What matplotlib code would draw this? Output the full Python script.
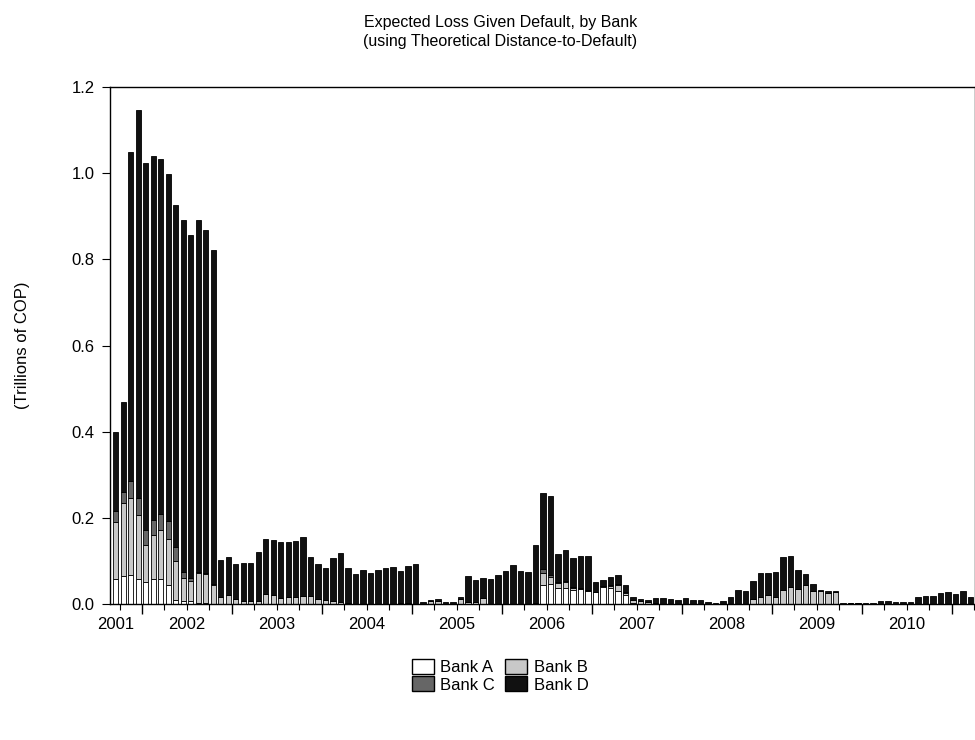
import matplotlib
matplotlib.use('Agg')
import matplotlib.pyplot as plt
import numpy as np
from matplotlib.patches import Patch

plt.rcParams['font.family'] = ['Liberation Sans', 'DejaVu Sans']

# Monthly totals (Sep 2001 - Mar 2011), trillions of COP
total = [0.40, 0.468, 1.05, 1.146, 1.023, 1.04, 1.034, 0.997, 0.926, 0.892,
         0.857, 0.892, 0.869, 0.822, 0.103, 0.108, 0.093, 0.094, 0.094, 0.12,
         0.152, 0.148, 0.145, 0.145, 0.146, 0.156, 0.11, 0.092, 0.084, 0.107,
         0.118, 0.084, 0.07, 0.079, 0.072, 0.079, 0.083, 0.086, 0.077, 0.088,
         0.093, 0.005, 0.009, 0.012, 0.005, 0.005, 0.016, 0.066, 0.056, 0.061,
         0.057, 0.067, 0.076, 0.09, 0.077, 0.074, 0.138, 0.257, 0.251, 0.116,
         0.125, 0.107, 0.112, 0.112, 0.052, 0.056, 0.063, 0.067, 0.044, 0.017,
         0.012, 0.009, 0.013, 0.013, 0.012, 0.009, 0.013, 0.009, 0.009, 0.004,
         0.002, 0.006, 0.016, 0.032, 0.03, 0.053, 0.072, 0.073, 0.074, 0.109,
         0.111, 0.08, 0.069, 0.046, 0.032, 0.03, 0.031, 0.002, 0.002, 0.002,
         0.002, 0.002, 0.006, 0.006, 0.004, 0.004, 0.005, 0.016, 0.019, 0.019,
         0.026, 0.028, 0.023, 0.029, 0.016]
# cumulative tops of A, A+B, A+B+C
top_a = [0.057, 0.065, 0.067, 0.057, 0.05, 0.057, 0.057, 0.045, 0.01, 0.008,
         0.006, 0.003, 0.003] + [0.0] * 44 + [0.043, 0.046, 0.036, 0.038,
         0.032, 0.035, 0.029, 0.027, 0.04, 0.036, 0.031, 0.021, 0.003] + [0.0] * 45
top_b = [0.19, 0.235, 0.245, 0.207, 0.136, 0.16, 0.171, 0.151, 0.099, 0.061,
         0.053, 0.073, 0.069, 0.045, 0.016, 0.022, 0.011, 0.007, 0.007, 0.007,
         0.023, 0.022, 0.015, 0.017, 0.017, 0.019, 0.019, 0.012, 0.01, 0.008,
         0.005, 0.003, 0, 0, 0, 0, 0, 0, 0.003, 0.003,
         0, 0, 0.006, 0.007, 0, 0, 0.012, 0.004, 0.005, 0.014,
         0, 0, 0, 0, 0, 0, 0.003, 0.073, 0.063, 0.048,
         0.052, 0.038, 0.035, 0.031, 0.028, 0.042, 0.042, 0.043, 0.025, 0.009,
         0.006, 0.004, 0.003, 0, 0, 0, 0, 0, 0, 0,
         0, 0, 0, 0, 0, 0.012, 0.017, 0.021, 0.017, 0.032,
         0.04, 0.035, 0.044, 0.029, 0.029, 0.026, 0.028, 0, 0.002, 0.002,
         0, 0, 0, 0, 0, 0, 0, 0, 0, 0,
         0, 0, 0, 0, 0]
top_c = [0.217, 0.26, 0.285, 0.247, 0.171, 0.196, 0.21, 0.193, 0.132, 0.075,
         0.061, 0.075, 0.071, 0.046] + top_b[14:57] + [0.081, 0.067, 0.05,
         0.053, 0.039, 0.036, 0.032, 0.028, 0.042, 0.045, 0.046, 0.027, 0.01] + top_b[70:]

year_labels = [str(y) for y in range(2001, 2011)]

a = np.array(top_a)
b = np.maximum(np.array(top_b), a)
c = np.maximum(np.array(top_c), b)
t = np.array(total)
x = np.arange(len(t))

fig = plt.figure(figsize=(9.75, 7.4), dpi=100)
ax = fig.add_axes([0.1128, 0.1838, 0.8872, 0.6986])
kw = dict(width=0.72, edgecolor='black', linewidth=0.6)
ax.bar(x, a, color='white', **kw)
ax.bar(x, b - a, bottom=a, color='#c8c8c8', **kw)
ax.bar(x, c - b, bottom=b, color='#666666', **kw)
ax.bar(x, t - c, bottom=c, color='#111111', **kw)

ax.set_xlim(-0.77, 114.6)
ax.set_ylim(0, 1.2)
ax.set_yticks([0, 0.2, 0.4, 0.6, 0.8, 1.0, 1.2])
ax.set_yticklabels(['0.0', '0.2', '0.4', '0.6', '0.8', '1.0', '1.2'])
ax.tick_params(axis='y', labelsize=12, length=6, pad=5, direction='out')

major = np.arange(3.5, 112, 12)
minor = np.arange(0.5, 115, 3)
ax.set_xticks(major)
ax.set_xticklabels([])
ax.set_xticks(minor, minor=True)
ax.tick_params(axis='x', which='major', length=7, width=1)
ax.tick_params(axis='x', which='minor', length=4.5, width=0.8)
label_pos = [0.0] + list(np.arange(9.5, 118, 12)[:9])
for p, lab in zip(label_pos, year_labels):
    ax.text(p, -0.026, lab, transform=ax.get_xaxis_transform(), ha='center',
            va='top', fontsize=12)
for s in ax.spines.values():
    s.set_linewidth(1)

ax.set_ylabel("(Trillions of COP)", fontsize=12, labelpad=30)
fig.text(0.513, 0.957, "Expected Loss Given Default, by Bank\n(using Theoretical Distance-to-Default)",
         ha='center', va='center', fontsize=11.5, linespacing=1.3)

handles = [Patch(facecolor='white', edgecolor='black', label='Bank A'),
           Patch(facecolor='#666666', edgecolor='black', label='Bank C'),
           Patch(facecolor='#c8c8c8', edgecolor='black', label='Bank B'),
           Patch(facecolor='#111111', edgecolor='black', label='Bank D')]
fig.legend(handles=handles, ncol=2, loc='center', bbox_to_anchor=(0.513, 0.087),
           frameon=False, fontsize=12, handlelength=1.3, handleheight=1.0,
           handletextpad=0.4, columnspacing=0.6, labelspacing=0.1)

plt.savefig('out.png', dpi=100)
